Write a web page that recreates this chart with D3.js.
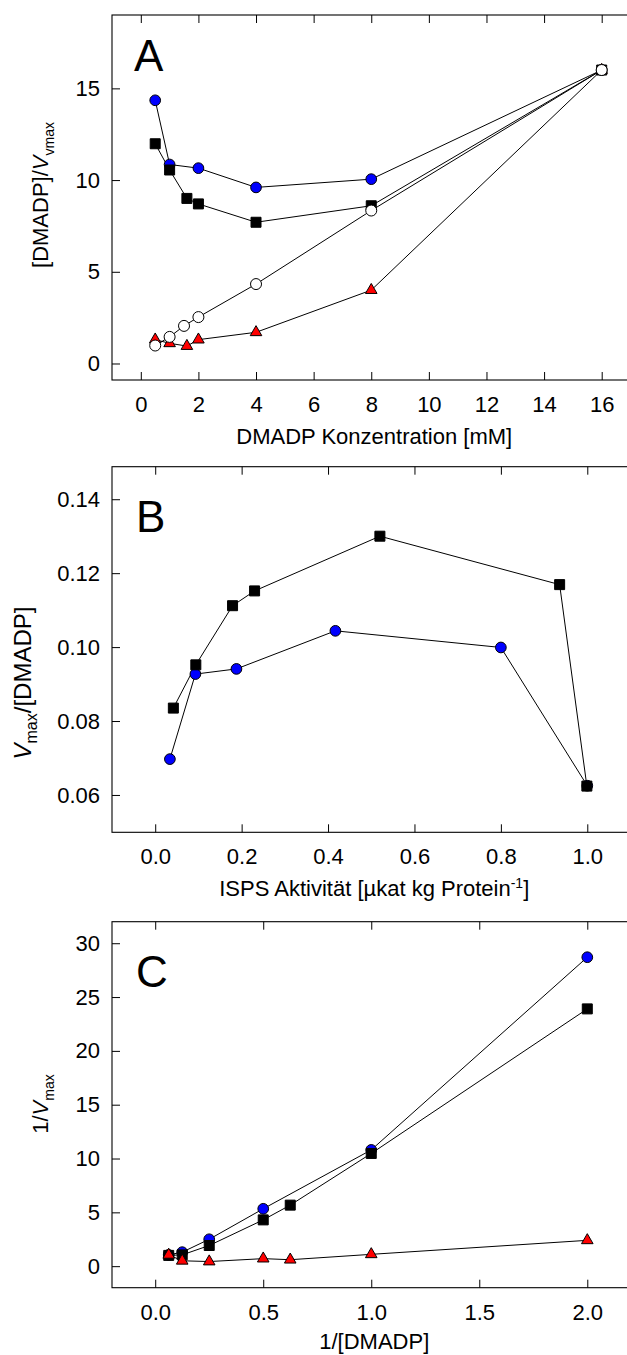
<!DOCTYPE html>
<html><head><meta charset="utf-8">
<script src="https://cdn.jsdelivr.net/npm/d3@7"></script>
<style>
html,body{margin:0;padding:0;background:#fff;}
svg{display:block;font-family:"Liberation Sans",Arial,sans-serif;}
</style></head>
<body><svg id="chart" width="627" height="1355"></svg>
<script>
// ---------- Panel A: [DMADP]/Vmax vs DMADP concentration ----------
const A_xTicks = [0, 2, 4, 6, 8, 10, 12, 14, 16];
const A_yTicks = [0, 5, 10, 15];
const A_blue_x = [0.5, 1, 2, 4, 8, 16];
const A_blue_y = [14.35, 10.85, 10.65, 9.6, 10.05, 16];
const A_square_x = [0.5, 1, 1.6, 2, 4, 8, 16];
const A_square_y = [11.98, 10.55, 9.0, 8.7, 7.7, 8.6, 16];
const A_triangle_x = [0.5, 1, 1.6, 2, 4, 8, 16];
const A_triangle_y = [1.3, 1.1, 0.95, 1.3, 1.7, 4.0, 16];
const A_open_x = [0.5, 1, 1.5, 2, 4, 8, 16];
const A_open_y = [0.98, 1.45, 2.05, 2.53, 4.33, 8.34, 16];

// ---------- Panel B: Vmax/[DMADP] vs ISPS activity ----------
const B_xTicks = [0.0, 0.2, 0.4, 0.6, 0.8, 1.0];
const B_yTicks = [0.06, 0.08, 0.10, 0.12, 0.14];
const B_square_x = [0.042, 0.094, 0.179, 0.23, 0.52, 0.936, 0.999];
const B_square_y = [0.0835, 0.0952, 0.1112, 0.1152, 0.130, 0.1169, 0.0624];
const B_blue_x = [0.034, 0.093, 0.188, 0.417, 0.80, 1.0];
const B_blue_y = [0.0697, 0.0927, 0.0941, 0.1044, 0.0999, 0.0625];

// ---------- Panel C: 1/Vmax vs 1/[DMADP] ----------
const C_xTicks = [0.0, 0.5, 1.0, 1.5, 2.0];
const C_yTicks = [0, 5, 10, 15, 20, 25, 30];
const C_blue_x = [0.0625, 0.125, 0.25, 0.5, 1, 2];
const C_blue_y = [1.05, 1.3, 2.5, 5.33, 10.8, 28.7];
const C_square_x = [0.0625, 0.125, 0.25, 0.5, 0.625, 1, 2];
const C_square_y = [1.0, 1.05, 1.92, 4.3, 5.67, 10.47, 23.9];
const C_triangle_x = [0.0625, 0.125, 0.25, 0.5, 0.625, 1, 2];
const C_triangle_y = [1.05, 0.5, 0.43, 0.7, 0.6, 1.1, 2.4];

const svg = d3.select("#chart");
const FS = 22;
const LEFT = 112, RIGHT = 630.5;

const markerStyle = {
  blue:     {type: d3.symbolCircle,   size: 90,  fill: "#0000ff"},
  square:   {type: d3.symbolSquare,   size: 100, fill: "#000000"},
  triangle: {type: d3.symbolTriangle, size: 58,  fill: "#ff0000"},
  open:     {type: d3.symbolCircle,   size: 95,  fill: "#ffffff"}
};

function zip(xs, ys){ return xs.map((x,i)=>({x:x, y:ys[i]})); }

function panel(cfg){
  const g = svg.append("g");
  const x = d3.scaleLinear().domain(cfg.xDomain).range([LEFT, RIGHT]);
  const y = d3.scaleLinear().domain(cfg.yDomain).range([cfg.bottom, cfg.top]);

  const bx = g.append("g").attr("transform", `translate(0,${cfg.bottom})`)
    .call(d3.axisBottom(x).tickValues(cfg.xTicks).tickFormat(cfg.xFmt)
      .tickSizeInner(-8).tickSizeOuter(0).tickPadding(16.5));
  const tx = g.append("g").attr("transform", `translate(0,${cfg.top})`)
    .call(d3.axisTop(x).tickValues(cfg.xTicks).tickFormat("")
      .tickSizeInner(-8).tickSizeOuter(0));
  const ly = g.append("g").attr("transform", `translate(${LEFT},0)`)
    .call(d3.axisLeft(y).tickValues(cfg.yTicks).tickFormat(cfg.yFmt)
      .tickSizeInner(-8).tickSizeOuter(0).tickPadding(12));
  [bx, tx, ly].forEach(a=>{
    a.select(".domain").remove();
    a.selectAll("line").attr("stroke","#000").attr("stroke-width",1);
    a.selectAll("text").attr("font-size",FS).attr("fill","#000")
      .attr("font-family",'"Liberation Sans",Arial,sans-serif');
  });

  g.append("rect").attr("x",LEFT).attr("y",cfg.top)
    .attr("width",RIGHT-LEFT).attr("height",cfg.bottom-cfg.top)
    .attr("fill","none").attr("stroke","#000").attr("stroke-width",1.1);

  const line = d3.line().x(d=>x(d.x)).y(d=>y(d.y));
  cfg.series.forEach(s=>{
    g.append("path").datum(s.data).attr("d",line)
      .attr("fill","none").attr("stroke","#000").attr("stroke-width",1);
  });
  cfg.series.forEach(s=>{
    const m = markerStyle[s.kind];
    g.selectAll(null).data(s.data).enter().append("path")
      .attr("transform",d=>`translate(${x(d.x)},${y(d.y)})`)
      .attr("d", d3.symbol().type(m.type).size(m.size))
      .attr("fill", m.fill).attr("stroke","#000").attr("stroke-width",1);
  });

  g.append("text").attr("x",cfg.letterX).attr("y",cfg.letterY)
    .attr("font-size",44).text(cfg.letter);

  const xt = g.append("text").attr("x",(LEFT+RIGHT)/2 + 3)
    .attr("y",cfg.bottom + (cfg.xTitleDy || 64))
    .attr("text-anchor","middle").attr("font-size",FS);
  cfg.xTitle(xt);

  const yt = g.append("text")
    .attr("transform",`translate(${cfg.yTitleX},${cfg.yTitleY}) rotate(-90)`)
    .attr("text-anchor","middle").attr("font-size",cfg.yTitleFS || FS);
  cfg.yTitle(yt);
}

panel({
  top: 15, bottom: 380, xDomain: [-1, 17], yDomain: [-0.9, 19.0],
  xTicks: A_xTicks, yTicks: A_yTicks, xFmt: d3.format("d"), yFmt: d3.format("d"),
  letter: "A", letterX: 134, letterY: 71,
  series: [
    {kind:"blue", data: zip(A_blue_x, A_blue_y)},
    {kind:"square", data: zip(A_square_x, A_square_y)},
    {kind:"triangle", data: zip(A_triangle_x, A_triangle_y)},
    {kind:"open", data: zip(A_open_x, A_open_y)}
  ],
  xTitle: t=>t.text("DMADP Konzentration [mM]"),
  yTitleX: 48, yTitleY: 195,
  yTitle: t=>{
    t.append("tspan").text("[DMADP]/");
    t.append("tspan").attr("font-style","italic").text("V");
    t.append("tspan").attr("font-size",14).attr("dy",6).text("vmax");
  }
});

panel({
  top: 466.7, bottom: 832.3, xDomain: [-0.1, 1.1], yDomain: [0.0499, 0.1488],
  xTicks: B_xTicks, yTicks: B_yTicks, xFmt: d3.format(".1f"), yFmt: d3.format(".2f"),
  letter: "B", letterX: 136, letterY: 532,
  series: [
    {kind:"blue", data: zip(B_blue_x, B_blue_y)},
    {kind:"square", data: zip(B_square_x, B_square_y)}
  ],
  xTitle: t=>{
    t.append("tspan").text("ISPS Aktivität [µkat kg Protein");
    t.append("tspan").attr("font-size",14).attr("dy",-8).text("-1");
    t.append("tspan").attr("dy",8).text("]");
  },
  yTitleX: 31, yTitleY: 683, yTitleFS: 24,
  yTitle: t=>{
    t.append("tspan").attr("font-style","italic").text("V");
    t.append("tspan").attr("font-size",16).attr("dy",6).text("max");
    t.append("tspan").attr("dy",-6).text("/[DMADP]");
  }
});

panel({
  top: 921.7, bottom: 1287.7, xDomain: [-0.2, 2.2], yDomain: [-2, 32],
  xTicks: C_xTicks, yTicks: C_yTicks, xFmt: d3.format(".1f"), yFmt: d3.format("d"),
  letter: "C", letterX: 136, letterY: 987,
  series: [
    {kind:"blue", data: zip(C_blue_x, C_blue_y)},
    {kind:"square", data: zip(C_square_x, C_square_y)},
    {kind:"triangle", data: zip(C_triangle_x, C_triangle_y)}
  ],
  xTitle: t=>t.text("1/[DMADP]"), xTitleDy: 61,
  yTitleX: 48, yTitleY: 1104,
  yTitle: t=>{
    t.append("tspan").text("1/");
    t.append("tspan").attr("font-style","italic").text("V");
    t.append("tspan").attr("font-size",14).attr("dy",6).text("max");
  }
});
</script></body></html>
